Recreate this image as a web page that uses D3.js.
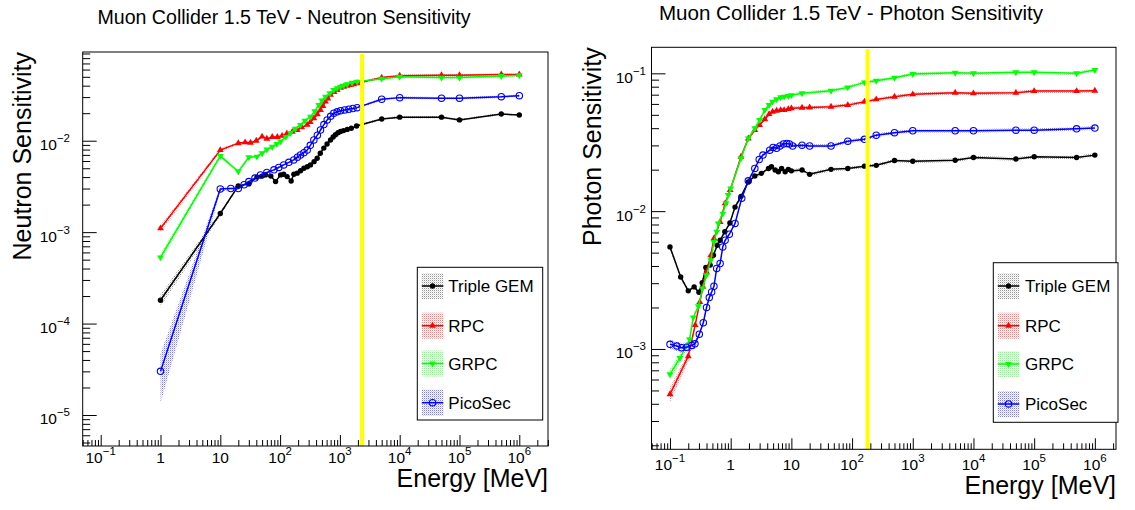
<!DOCTYPE html>
<html><head><meta charset="utf-8">
<script src="https://cdn.jsdelivr.net/npm/d3@7"></script>
<style>body{margin:0;background:#fff} text{font-family:"Liberation Sans",Arial,Helvetica,sans-serif;fill:#000}</style>
</head><body><svg id="c" width="1135" height="510"></svg>
<script>
// ---------------- DATA ----------------
const legendLabels = ["Triple GEM", "RPC", "GRPC", "PicoSec"];
const neutronTitle = "Muon Collider 1.5 TeV - Neutron Sensitivity";
const photonTitle = "Muon Collider 1.5 TeV - Photon Sensitivity";
const neutronYTitle = "Neutron Sensitivity";
const photonYTitle = "Photon Sensitivity";
const xTitle = "Energy [MeV]";
const neutronMarkerE = 2350;   // yellow line
const photonMarkerE = 180;

// Neutron
const neutronGemE = [1, 10, 20, 30, 41, 50, 57, 70, 84, 102, 115, 131, 153, 170, 193, 220, 250, 285, 322, 370, 417, 470, 538, 610, 697, 770, 844, 930, 1023, 1150, 1324, 1550, 1900, 5000, 1e4, 5e4, 1e5, 5e5, 1e6];
const neutronGemS = [1.8e-4, 1.6e-3, 3.2e-3, 3.37e-3, 4.0e-3, 4.1e-3, 4.23e-3, 4.1e-3, 3.57e-3, 4.23e-3, 4.3e-3, 4.05e-3, 3.63e-3, 4.3e-3, 4.42e-3, 4.7e-3, 5.0e-3, 5.2e-3, 5.44e-3, 5.9e-3, 6.44e-3, 7.3e-3, 8.3e-3, 9.2e-3, 1.02e-2, 1.1e-2, 1.16e-2, 1.22e-2, 1.26e-2, 1.29e-2, 1.33e-2, 1.37e-2, 1.45e-2, 1.73e-2, 1.81e-2, 1.81e-2, 1.69e-2, 1.96e-2, 1.91e-2];
const neutronGemErr = [0.15, 0.06];

const neutronRpcE = [1, 10, 20, 26, 32, 40, 50, 60, 74, 90, 108, 130, 160, 193, 230, 284, 320, 367, 420, 474, 520, 574, 630, 697, 800, 900, 1030, 1163, 1320, 1503, 1700, 1941, 5000, 1e4, 5e4, 1e5, 5e5, 1e6];
const neutronRpcS = [1.1e-3, 7.9e-3, 9.4e-3, 9.6e-3, 9.5e-3, 1.0e-2, 1.11e-2, 1.05e-2, 1.1e-2, 1.1e-2, 1.13e-2, 1.2e-2, 1.25e-2, 1.31e-2, 1.4e-2, 1.49e-2, 1.6e-2, 1.76e-2, 1.95e-2, 2.17e-2, 2.4e-2, 2.68e-2, 2.9e-2, 3.17e-2, 3.4e-2, 3.59e-2, 3.8e-2, 3.9e-2, 4.0e-2, 4.07e-2, 4.15e-2, 4.25e-2, 4.9e-2, 5.15e-2, 5.2e-2, 5.2e-2, 5.3e-2, 5.3e-2];
const neutronRpcErr = [0.08, 0.05];

const neutronGrpcE = [1, 10, 20, 30, 41, 50, 60, 74, 88, 102, 125, 149, 180, 219, 260, 322, 380, 444, 500, 574, 680, 790, 900, 1023, 1150, 1324, 1600, 1941, 5000, 1e4, 5e4, 1e5, 5e5, 1e6];
const neutronGrpcS = [5.3e-4, 6.8e-3, 4.6e-3, 6.6e-3, 6.7e-3, 7.3e-3, 8.0e-3, 8.6e-3, 9.2e-3, 9.8e-3, 1.1e-2, 1.21e-2, 1.35e-2, 1.49e-2, 1.65e-2, 1.83e-2, 2.1e-2, 2.46e-2, 2.75e-2, 3.03e-2, 3.3e-2, 3.59e-2, 3.75e-2, 3.9e-2, 4.0e-2, 4.14e-2, 4.3e-2, 4.43e-2, 4.77e-2, 5.0e-2, 4.9e-2, 4.9e-2, 5.1e-2, 5.2e-2];
const neutronGrpcErr = [0.1, 0.05];

const neutronPicoE = [1, 10, 15, 20, 25, 30, 38, 47, 60, 79, 95, 115, 140, 169, 195, 219, 250, 284, 320, 367, 420, 474, 540, 613, 700, 790, 900, 1023, 1200, 1409, 1650, 1941, 5000, 1e4, 5e4, 1e5, 5e5, 1e6];
const neutronPicoS = [3.0e-5, 2.97e-3, 3.0e-3, 3.0e-3, 3.3e-3, 3.57e-3, 3.9e-3, 4.23e-3, 4.5e-3, 4.8e-3, 5.1e-3, 5.44e-3, 5.8e-3, 6.17e-3, 6.6e-3, 7.0e-3, 7.4e-3, 7.9e-3, 8.9e-3, 1.02e-2, 1.15e-2, 1.31e-2, 1.5e-2, 1.69e-2, 1.85e-2, 2.0e-2, 2.07e-2, 2.13e-2, 2.17e-2, 2.21e-2, 2.25e-2, 2.3e-2, 2.84e-2, 2.96e-2, 2.92e-2, 2.92e-2, 3.03e-2, 3.11e-2];
const neutronPicoErr = [0.55, 0.06];

// Photon
const photonGemE = [0.1, 0.15, 0.2, 0.25, 0.3, 0.34, 0.39, 0.46, 0.52, 0.6, 0.67, 0.8, 0.97, 1.18, 1.48, 1.95, 2.5, 3.2, 4.2, 4.7, 5.4, 6.1, 6.9, 7.9, 8.9, 10, 15, 20, 45, 85, 160, 250, 500, 1000, 5000, 1e4, 5e4, 1e5, 5e5, 1e6];
const photonGemS = [5.5e-3, 3.33e-3, 2.64e-3, 2.82e-3, 2.58e-3, 3.02e-3, 3.9e-3, 4.06e-3, 4.79e-3, 5.66e-3, 6.15e-3, 7.08e-3, 8.2e-3, 1.07e-2, 1.28e-2, 1.63e-2, 1.8e-2, 1.88e-2, 2.04e-2, 2.1e-2, 1.99e-2, 1.93e-2, 2.04e-2, 1.93e-2, 2.01e-2, 1.96e-2, 1.99e-2, 1.85e-2, 2.01e-2, 2.04e-2, 2.12e-2, 2.15e-2, 2.33e-2, 2.3e-2, 2.34e-2, 2.45e-2, 2.39e-2, 2.48e-2, 2.45e-2, 2.55e-2];
const photonGemErr = [0.05];

const photonRpcE = [0.1, 0.2, 0.26, 0.31, 0.35, 0.4, 0.47, 0.53, 0.67, 0.81, 0.98, 1.48, 1.95, 2.5, 3.0, 3.65, 4.3, 4.9, 5.7, 6.65, 7.6, 8.9, 10, 15, 20, 45, 85, 160, 250, 500, 1000, 5000, 1e4, 5e4, 1e5, 5e5, 1e6];
const photonRpcS = [4.69e-4, 8.85e-4, 1.49e-3, 2.19e-3, 2.82e-3, 3.62e-3, 4.78e-3, 6.34e-3, 8.35e-3, 1.14e-2, 1.42e-2, 2.48e-2, 3.37e-2, 3.87e-2, 4.21e-2, 4.64e-2, 5.06e-2, 5.26e-2, 5.35e-2, 5.41e-2, 5.41e-2, 5.5e-2, 5.57e-2, 5.63e-2, 5.65e-2, 5.72e-2, 5.88e-2, 6.22e-2, 6.47e-2, 6.76e-2, 7.04e-2, 7.23e-2, 7.16e-2, 7.23e-2, 7.43e-2, 7.43e-2, 7.48e-2];
const photonRpcErr = [0.12, 0.08];

const photonGrpcE = [0.1, 0.146, 0.21, 0.242, 0.293, 0.345, 0.4, 0.47, 0.53, 0.59, 0.625, 0.74, 0.836, 0.91, 1.0, 1.48, 1.95, 2.5, 3.0, 3.65, 4.3, 4.9, 5.7, 6.65, 7.6, 8.9, 10, 15, 45, 85, 160, 250, 500, 1000, 5000, 1e4, 5e4, 1e5, 5e5, 1e6];
const photonGrpcS = [6.55e-4, 8.6e-4, 1.17e-3, 1.69e-3, 2.04e-3, 2.75e-3, 3.43e-3, 4.4e-3, 5.98e-3, 7.1e-3, 8.15e-3, 9.6e-3, 1.14e-2, 1.31e-2, 1.46e-2, 2.42e-2, 3.37e-2, 3.99e-2, 4.58e-2, 5.42e-2, 5.89e-2, 6.23e-2, 6.48e-2, 6.7e-2, 6.77e-2, 6.84e-2, 6.95e-2, 7.16e-2, 7.48e-2, 7.91e-2, 8.6e-2, 8.84e-2, 9.29e-2, 9.89e-2, 0.101, 0.1, 0.1017, 0.1017, 0.1, 0.1057];
const photonGrpcErr = [0.1, 0.08];

const photonPicoE = [0.1, 0.13, 0.156, 0.188, 0.228, 0.258, 0.304, 0.354, 0.4, 0.444, 0.486, 0.53, 0.588, 0.67, 0.74, 0.81, 0.95, 1.18, 1.52, 1.95, 2.5, 2.95, 3.4, 4.4, 5.0, 5.7, 6.5, 7.4, 8.4, 9.3, 10.5, 15, 20, 45, 85, 160, 250, 500, 1000, 5000, 1e4, 5e4, 1e5, 5e5, 1e6];
const photonPicoS = [1.08e-3, 1.05e-3, 1.02e-3, 1.03e-3, 1.06e-3, 1.09e-3, 1.28e-3, 1.55e-3, 2.0e-3, 2.36e-3, 2.59e-3, 2.85e-3, 3.84e-3, 4.17e-3, 5.5e-3, 6.15e-3, 6.8e-3, 8.15e-3, 1.24e-2, 1.66e-2, 2.04e-2, 2.37e-2, 2.55e-2, 2.77e-2, 2.9e-2, 2.86e-2, 2.97e-2, 3.07e-2, 3.1e-2, 3.07e-2, 2.97e-2, 3.01e-2, 2.97e-2, 2.97e-2, 3.22e-2, 3.32e-2, 3.56e-2, 3.71e-2, 3.83e-2, 3.83e-2, 3.83e-2, 3.87e-2, 3.87e-2, 3.96e-2, 4.01e-2];
const photonPicoErr = [0.08, 0.08, 0.08, 0.08, 0.08, 0.08];

const bandDefault = 0.03;

// ---------------- STYLE / LAYOUT ----------------
const seriesStyle = [
  {key: "gem", color: "#000000", marker: "dot"},
  {key: "rpc", color: "#ff0000", marker: "up"},
  {key: "grpc", color: "#00ff00", marker: "down"},
  {key: "pico", color: "#0000ff", marker: "open"}
];

const panels = [
  {
    id: "n", title: neutronTitle, titleX: 284, titleY: 23.5, titleFs: 19.6,
    ytitle: neutronYTitle, ytitleX: 31, xtitleY: 487,
    x0: 82.7, x1: 548, y0: 52, y1: 446,
    xDom: [0.05, 3.02e6], yDom: [4.58e-6, 0.0934],
    xlabY: 463, ylabX: 70, markerE: neutronMarkerE,
    series: [
      {E: neutronGemE, S: neutronGemS, err: neutronGemErr},
      {E: neutronRpcE, S: neutronRpcS, err: neutronRpcErr},
      {E: neutronGrpcE, S: neutronGrpcS, err: neutronGrpcErr},
      {E: neutronPicoE, S: neutronPicoS, err: neutronPicoErr}
    ],
    legend: {x0: 417.3, x1: 542.7, y0: 267.3, y1: 420, rows: [286, 325.7, 363.5, 402.7], textX: 448.3}
  },
  {
    id: "p", title: photonTitle, titleX: 851, titleY: 19.5, titleFs: 20.6,
    ytitle: photonYTitle, ytitleX: 601, xtitleY: 494,
    x0: 651.5, x1: 1116, y0: 47.3, y1: 449.3,
    xDom: [0.0496, 2.23e6], yDom: [1.87e-4, 0.1545],
    xlabY: 470, ylabX: 646, markerE: photonMarkerE,
    series: [
      {E: photonGemE, S: photonGemS, err: photonGemErr},
      {E: photonRpcE, S: photonRpcS, err: photonRpcErr},
      {E: photonGrpcE, S: photonGrpcS, err: photonGrpcErr},
      {E: photonPicoE, S: photonPicoS, err: photonPicoErr}
    ],
    legend: {x0: 993.3, x1: 1118, y0: 262.7, y1: 422.3, rows: [286, 325.7, 364, 404], textX: 1025}
  }
];

// ---------------- DRAW ----------------
const svg = d3.select("#c");
const defs = svg.append("defs");
seriesStyle.forEach(s => {
  const p = defs.append("pattern").attr("id", "pat-" + s.key)
    .attr("width", 2).attr("height", 2).attr("patternUnits", "userSpaceOnUse");
  p.append("rect").attr("width", 1).attr("height", 1).attr("fill", s.color)
    .attr("fill-opacity", s.key === "gem" ? 0.4 : 0.5);
  p.append("rect").attr("x", 1).attr("y", 1).attr("width", 1).attr("height", 1).attr("fill", s.color)
    .attr("fill-opacity", s.key === "gem" ? 0.12 : 0.2);
});

function isMajor(v) {
  const l = Math.log10(v);
  return Math.abs(l - Math.round(l)) < 1e-6;
}
function logTicks(dom) {
  const out = [];
  const lo = Math.floor(Math.log10(dom[0])), hi = Math.ceil(Math.log10(dom[1]));
  for (let k = lo; k <= hi; k++) {
    for (let m = 1; m <= 9; m++) {
      const v = m * Math.pow(10, k);
      if (v >= dom[0] * 0.9999 && v <= dom[1] * 1.0001) out.push(v);
    }
  }
  return out;
}
function powLabel(sel, v, supFs) {
  const k = Math.round(Math.log10(v));
  if (k === 0) { sel.text("1"); return; }
  if (k === 1) { sel.text("10"); return; }
  sel.append("tspan").text("10");
  sel.append("tspan").attr("font-size", supFs).attr("dy", -8)
    .text(k < 0 ? "\u2212" + (-k) : String(k));
}
function marker(sel, type, color) {
  if (type === "dot") sel.append("circle").attr("r", 2.7).attr("fill", color);
  else if (type === "open") sel.append("circle").attr("r", 3.2).attr("fill", "none")
    .attr("stroke", color).attr("stroke-width", 1.1);
  else {
    const path = d3.symbol(d3.symbolTriangle, 20)();
    const m = sel.append("path").attr("d", path).attr("fill", color);
    if (type === "down") m.attr("transform", "rotate(180)");
  }
}

panels.forEach(p => {
  const g = svg.append("g");
  const x = d3.scaleLog().domain(p.xDom).range([p.x0, p.x1]);
  const y = d3.scaleLog().domain(p.yDom).range([p.y1, p.y0]);
  const cid = "clip-" + p.id;
  defs.append("clipPath").attr("id", cid).append("rect")
    .attr("x", p.x0).attr("y", p.y0).attr("width", p.x1 - p.x0).attr("height", p.y1 - p.y0);

  // title
  g.append("text").attr("x", p.titleX).attr("y", p.titleY).attr("text-anchor", "middle")
    .attr("font-size", p.titleFs).text(p.title);

  const plot = g.append("g").attr("clip-path", `url(#${cid})`);
  const pts = p.series.map(s => s.E.map((e, i) => ({e, v: s.S[i], r: i < s.err.length ? s.err[i] : bandDefault})));

  // bands
  const area = d3.area().x(d => x(d.e)).y0(d => y(d.v * (1 - d.r))).y1(d => y(d.v * (1 + d.r)));
  pts.forEach((data, i) => {
    plot.append("path").datum(data).attr("d", area).attr("fill", `url(#pat-${seriesStyle[i].key})`);
  });
  // lines + markers
  const line = d3.line().x(d => x(d.e)).y(d => y(d.v));
  pts.forEach((data, i) => {
    const st = seriesStyle[i];
    plot.append("path").datum(data).attr("d", line).attr("fill", "none")
      .attr("stroke", st.color).attr("stroke-width", 1.5);
    const mg = plot.append("g");
    data.forEach(d => {
      const m = mg.append("g").attr("transform", `translate(${x(d.e)},${y(d.v)})`);
      marker(m, st.marker, st.color);
    });
  });

  // yellow marker line
  g.append("line").attr("x1", x(p.markerE)).attr("x2", x(p.markerE))
    .attr("y1", p.y0 + 2).attr("y2", p.y1).attr("stroke", "#ffff00").attr("stroke-width", 4);

  // axes
  const xt = logTicks(p.xDom);
  const gx = g.append("g").attr("transform", `translate(0,${p.y1})`)
    .call(d3.axisBottom(x).tickValues(xt).tickSizeInner(0).tickSizeOuter(0).tickFormat(""));
  gx.select(".domain").remove();
  gx.selectAll(".tick line").attr("y2", d => isMajor(d) ? -11 : -6).attr("stroke", "#000");
  xt.filter(isMajor).forEach(v => {
    const t = g.append("text").attr("x", x(v)).attr("y", p.xlabY).attr("text-anchor", "middle")
      .attr("font-size", 15.5);
    powLabel(t, v, 11.5);
  });

  const yt = logTicks(p.yDom);
  const gy = g.append("g").attr("transform", `translate(${p.x0},0)`)
    .call(d3.axisLeft(y).tickValues(yt).tickSizeInner(0).tickSizeOuter(0).tickFormat(""));
  gy.select(".domain").remove();
  gy.selectAll(".tick line").attr("x2", d => isMajor(d) ? 14 : 7.5).attr("stroke", "#000");
  yt.filter(isMajor).forEach(v => {
    const t = g.append("text").attr("x", p.ylabX).attr("y", y(v) + 9.5).attr("text-anchor", "end")
      .attr("font-size", 15.5);
    powLabel(t, v, 11.5);
  });

  // frame
  g.append("rect").attr("x", p.x0).attr("y", p.y0).attr("width", p.x1 - p.x0).attr("height", p.y1 - p.y0)
    .attr("fill", "none").attr("stroke", "#000").attr("stroke-width", 1);

  // axis titles
  g.append("text").attr("x", p.x1).attr("y", p.xtitleY).attr("text-anchor", "end")
    .attr("font-size", 25).text(xTitle);
  g.append("text").attr("transform", `translate(${p.ytitleX},${p.y0}) rotate(-90)`)
    .attr("text-anchor", "end").attr("font-size", 25).text(p.ytitle);

  // legend
  const L = p.legend;
  const lg = g.append("g");
  lg.append("rect").attr("x", L.x0).attr("y", L.y0).attr("width", L.x1 - L.x0).attr("height", L.y1 - L.y0)
    .attr("fill", "#fff").attr("stroke", "#000").attr("stroke-width", 1);
  legendLabels.forEach((lab, i) => {
    const st = seriesStyle[i];
    const cy = L.rows[i];
    const sx0 = L.x0 + 4.5, sx1 = L.x0 + 26;
    lg.append("rect").attr("x", sx0).attr("y", cy - 13).attr("width", sx1 - sx0).attr("height", 26)
      .attr("fill", `url(#pat-${st.key})`);
    lg.append("line").attr("x1", sx0).attr("x2", sx1).attr("y1", cy).attr("y2", cy)
      .attr("stroke", st.color).attr("stroke-width", 1.5);
    const m = lg.append("g").attr("transform", `translate(${(sx0 + sx1) / 2},${cy})`);
    marker(m, st.marker, st.color);
    lg.append("text").attr("x", L.textX).attr("y", cy + 6).attr("font-size", 17).text(lab);
  });
});
</script></body></html>
